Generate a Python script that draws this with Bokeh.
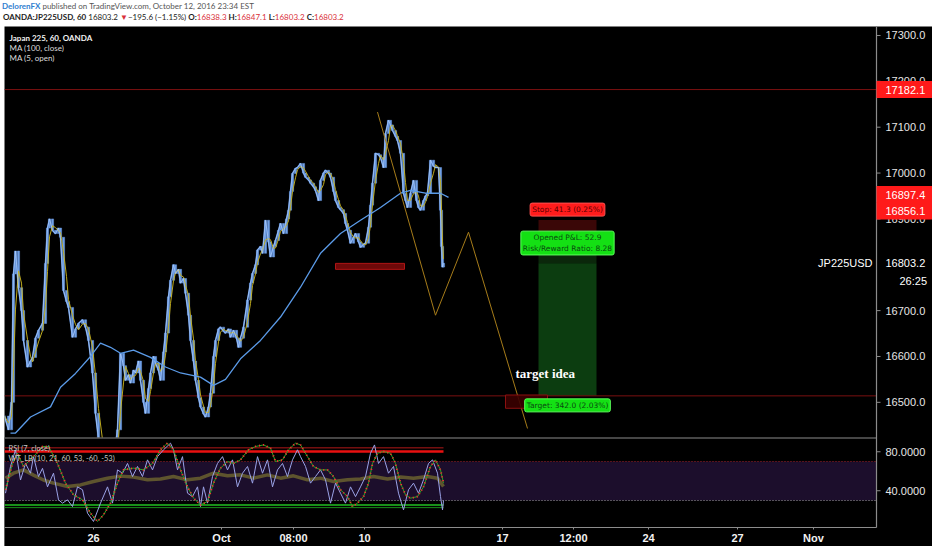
from bokeh.plotting import figure
from bokeh.models import Range1d, Label, Div, ColumnDataSource, BoxAnnotation
from bokeh.layouts import column
from bokeh.embed import file_html
from bokeh.resources import INLINE
import pandas as pd

# ---------------- data ----------------
price_t = [0, 4, 7, 9, 11, 14, 17, 19, 23, 26, 28, 31, 34, 38, 41, 43, 45, 48, 51, 54, 56, 59, 62, 64, 68, 71,
           74, 78, 81, 84, 88, 91, 94, 98, 102, 106, 110, 113, 116, 119, 121, 124, 126, 129, 131, 134, 136, 139,
           141, 144, 146, 149, 151, 154, 156, 159, 161, 164, 166, 169, 171, 174, 176, 179, 181, 184, 186, 189,
           191, 194, 196, 199, 201, 204, 206, 209, 211, 214, 216, 219, 221, 224, 226, 229, 232, 234, 236, 239,
           243, 246, 248, 251, 253, 256, 258, 261, 264, 266, 269, 271, 274, 276, 279, 282, 284, 286, 288, 291,
           293, 296, 299, 301, 304, 306, 309, 311, 314, 316, 319, 321, 324, 326, 329, 331, 334, 336, 339, 341,
           343, 346, 349, 351, 354, 356, 359, 361, 364, 366, 368, 371, 374, 376, 379, 381, 384, 386, 388, 391,
           393, 396, 399, 401, 403, 406, 409, 412, 414, 416, 419, 421, 423, 426, 429, 431, 434, 436, 437, 438, 439]
price_close = [16470, 16440, 16500, 16780, 16830, 16750, 16700, 16635, 16577, 16590, 16598, 16640, 16657, 16672,
               16803, 16880, 16900, 16875, 16868, 16880, 16860, 16744, 16720, 16707, 16642, 16660, 16672, 16680,
               16664, 16635, 16564, 16476, 16420, 16360, 16330, 16350, 16390, 16440, 16607, 16580, 16548, 16560,
               16542, 16570, 16564, 16590, 16548, 16500, 16476, 16530, 16564, 16600, 16585, 16570, 16548, 16610,
               16651, 16730, 16766, 16800, 16781, 16790, 16760, 16770, 16738, 16690, 16635, 16590, 16548, 16510,
               16490, 16475, 16468, 16490, 16520, 16600, 16635, 16660, 16664, 16655, 16651, 16660, 16642, 16657,
               16640, 16620, 16640, 16664, 16723, 16760, 16781, 16800, 16832, 16840, 16825, 16897, 16850, 16817,
               16840, 16853, 16875, 16890, 16868, 16900, 16919, 16960, 16999, 17010, 17012, 17021, 17000, 16991,
               16985, 16978, 16970, 16962, 16940, 16984, 17000, 17006, 17000, 16991, 16960, 16940, 16925, 16920,
               16912, 16890, 16875, 16847, 16860, 16868, 16850, 16838, 16845, 16847, 16882, 16930, 16978, 17043,
               17040, 17034, 17012, 17086, 17115, 17105, 17093, 17080, 17071, 17043, 16956, 16940, 16925, 16956,
               16984, 16940, 16925, 16919, 16940, 16950, 16956, 17028, 17015, 17012, 17012, 16919, 16840, 16795,
               16803.2]

ma100_t = [6, 11, 26, 46, 56, 71, 86, 96, 106, 116, 129, 146, 161, 176, 196, 209, 221, 236, 256, 276, 296, 316,
           336, 356, 376, 396, 406, 421, 436, 444]
ma100 = [16433, 16433, 16468, 16490, 16533, 16563, 16600, 16629, 16620, 16607, 16614, 16598, 16577, 16564, 16555,
         16537, 16550, 16595, 16635, 16686, 16751, 16825, 16868, 16897, 16925, 16956, 16962, 16956, 16956, 16947]

rsi_t = [1, 6, 11, 16, 21, 26, 29, 34, 38, 43, 49, 54, 58, 63, 68, 73, 78, 83, 89, 96, 103, 108, 113, 118, 123,
         128, 133, 138, 143, 148, 153, 159, 166, 169, 173, 178, 183, 188, 193, 196, 199, 203, 208, 213, 218, 223,
         228, 233, 238, 243, 248, 253, 258, 263, 268, 273, 278, 283, 288, 293, 296, 301, 306, 311, 316, 321, 326,
         331, 336, 341, 346, 351, 356, 361, 366, 370, 374, 379, 384, 389, 394, 399, 404, 409, 414, 419, 424, 428,
         433, 436, 438, 439]
rsi_vals = [37.5, 64.9, 82, 51, 68, 58, 75, 54.6, 63, 44, 58, 30.7, 27.3, 30.7, 23.8, 44, 41, 17, 8.5, 27.3, 44,
            27.3, 61.4, 58, 68, 54.6, 64.9, 54.6, 71.7, 61.4, 75, 82, 88.8, 82, 61.4, 75, 37.5, 34, 44, 23.8, 44,
            27.3, 54.6, 68, 75, 61.4, 71.7, 44, 58, 64.9, 47.8, 75, 58, 71.7, 44, 61.4, 68, 54.6, 71.7, 82, 75,
            64.9, 47.8, 54.6, 61.4, 51.2, 27.3, 47.8, 37.5, 27.3, 44, 34, 44, 54.6, 78.5, 87, 68, 75, 58, 64.9,
            37.5, 20.4, 41, 47.8, 37.5, 51.2, 68, 71.7, 58, 34, 20.4, 30]

wt_t = [1, 8, 13, 19, 29, 38, 44, 53, 61, 69, 78, 86, 93, 99, 106, 113, 119, 129, 139, 148, 156, 163, 169, 176,
        183, 189, 196, 203, 209, 216, 223, 229, 236, 244, 251, 259, 266, 271, 278, 284, 291, 296, 303, 309, 316,
        323, 329, 336, 343, 348, 353, 359, 364, 368, 373, 379, 386, 391, 396, 401, 406, 413, 419, 426, 431, 436,
        439]
wt_vals = [41, 68, 78.5, 64.9, 75, 85.4, 85.4, 68, 47.8, 35.8, 30.7, 17, 8.5, 15.3, 27.3, 47.8, 61.4, 63.2, 61.4,
           68, 82, 88.8, 82, 61.4, 44, 32.4, 25.5, 29, 47.8, 63.2, 70, 68, 71.7, 82, 85.4, 87, 83.7, 70, 71.7, 82,
           88.8, 87, 75, 64.9, 61.4, 61.4, 54.6, 41, 34, 23.8, 27.3, 34, 47.8, 68, 78.5, 80.2, 78.5, 68, 47.8,
           35.8, 32.4, 34, 44, 64.9, 71.7, 61.4, 47.8]

band_t = [1, 9, 19, 29, 39, 49, 63, 76, 89, 103, 116, 129, 143, 156, 169, 183, 196, 209, 223, 236, 249, 263, 276,
          289, 303, 316, 329, 343, 356, 369, 383, 396, 409, 423, 433, 439]
band_vals = [52.9, 58, 61.4, 56, 51, 47.8, 44.4, 46, 49.5, 52.9, 55, 54, 51.2, 52, 54.6, 51.2, 52.9, 58, 55.3,
             56.3, 52.9, 56.3, 52.9, 55.3, 51.2, 52.9, 49.5, 51.2, 52, 54.6, 52, 54, 52.9, 54.6, 52.9, 44.4]

time_tick_pos = [89, 217, 289, 360, 498, 569, 644, 733, 809]
time_tick_labels = ["26", "Oct", "08:00", "10", "17", "12:00", "24", "27", "Nov"]
price_ticks = [16500, 16600, 16700, 16900, 17000, 17100, 17200, 17300]
rsi_ticks = [40, 80]
rsi_bands = [30, 70]
wt_levels_hi = [84, 80.3]
wt_levels_lo = [25.4, 22.7]

last_price = 16803.2
alert_level = 17182.1
stop_price = 16897.4
entry_price = 16856.1
target_price = 16514.1

# hand drawings
zig_t = [373, 431, 464, 523]
zig_p = [17133, 16690, 16871, 16443]
support_box = dict(left=331, right=400, bottom=16790, top=16803)
target_box = dict(left=501, right=543, bottom=16487, top=16516)
pos_left, pos_right = 534, 592

# ---------------- layout (pixels) ----------------
FIG_W, FIG_H = 928, 520          # black chart area
AX_T = 872                        # x of price-axis line (time units == px)
MAIN_H = 411                      # main panel height
RSI_TOP, RSI_BOT = 412, 501       # RSI panel rows
PRICE_LO, PRICE_HI = 16423.3, 17319.6
RSI_LO, RSI_HI = 2.3, 93.6

PP = (PRICE_HI - PRICE_LO) / MAIN_H
y_start = PRICE_HI - FIG_H * PP
RP = (RSI_HI - RSI_LO) / (RSI_BOT - RSI_TOP)
rsi_end = RSI_HI + RSI_TOP * RP
rsi_start = RSI_LO - (FIG_H - RSI_BOT) * RP


def py(px):
    """price-coordinate of a pixel row measured from the top of the chart"""
    return PRICE_HI - px * PP


AXF = "Liberation Sans"
GRAY = "#8c8c8c"

p = figure(width=FIG_W, height=FIG_H, output_backend="svg", toolbar_location=None,
           x_range=Range1d(0, FIG_W), y_range=Range1d(y_start, PRICE_HI),
           x_axis_location=None, y_axis_location=None,
           min_border=0, min_border_left=0, min_border_right=0, min_border_top=0, min_border_bottom=0,
           background_fill_color="black", border_fill_color="black", outline_line_color=None)
p.margin = (0, 0, 0, 4)
p.extra_y_ranges = {"rsi": Range1d(rsi_start, rsi_end)}
p.grid.visible = False

# ---------------- main panel ----------------
ma5 = pd.Series(price_close).rolling(3, min_periods=1).mean().tolist()
opens = [price_close[0]] + price_close[:-1]
src = ColumnDataSource(dict(t=price_t, close=price_close, ma5=ma5,
                            lo=[min(a, b) for a, b in zip(opens, price_close)],
                            hi=[max(a, b) for a, b in zip(opens, price_close)]))

p.quad(left=pos_left, right=pos_right, bottom=entry_price, top=stop_price, fill_color="#3a0707", line_color=None)
p.quad(left=pos_left, right=pos_right, bottom=last_price, top=entry_price, fill_color="#0b270b", line_color=None)
p.quad(left=pos_left, right=pos_right, bottom=target_price, top=last_price, fill_color="#0c3d10", line_color=None)

p.segment(x0=[0, 0], x1=[AX_T, AX_T], y0=[alert_level, target_price], y1=[alert_level, target_price],
          line_color="#7a1010", line_width=1)

p.vbar(x="t", bottom="lo", top="hi", width=2.2, source=src, fill_color="#6f9fe6", line_color="#6f9fe6",
       line_width=0.5)
p.line("t", "close", source=src, line_color="#5f8fdc", line_width=1.6)
p.line("t", "ma5", source=src, line_color="#c0ac1e", line_width=1)
p.line("t", "close", source=src, line_color="#b5d3fa", line_width=0.7)
p.line(ma100_t, ma100, line_color="#5b9be8", line_width=1.3)

p.line(zig_t, zig_p, line_color="#a67c1a", line_width=1)
p.quad(**support_box, fill_color="#7a0a0a", fill_alpha=0.9, line_color="#b01515")
p.quad(**target_box, fill_color="#3a0000", fill_alpha=0.9, line_color="#8b1010")

# cover everything below the main panel
p.quad(left=0, right=FIG_W, bottom=y_start, top=PRICE_LO, fill_color="black", line_color=None)

# ---------------- RSI panel ----------------
p.quad(left=0, right=AX_T, bottom=rsi_bands[0], top=rsi_bands[1], fill_color="#1c0e2c",
       line_color=None, y_range_name="rsi")
p.line([0, AX_T], [rsi_bands[1]] * 2, line_color="#a02020", line_dash="1 2", line_width=1, y_range_name="rsi")
p.line([0, AX_T], [rsi_bands[0]] * 2, line_color="#a0a0a0", line_dash="1 2", line_width=1, y_range_name="rsi")
t_first, t_last = price_t[0], price_t[-1]
p.line([t_first, t_last], [wt_levels_hi[0]] * 2, line_color="#b01818", line_width=1, y_range_name="rsi")
p.line([t_first, t_last], [wt_levels_hi[1]] * 2, line_color="#e81010", line_width=2.5, y_range_name="rsi")
p.line([t_first, t_last], [wt_levels_lo[0]] * 2, line_color="#22c022", line_width=1.6, y_range_name="rsi")
p.line([t_first, t_last], [wt_levels_lo[1]] * 2, line_color="#188a18", line_width=1, y_range_name="rsi")

p.line(band_t, band_vals, line_color="#8a8430", line_alpha=0.6, line_width=3.5, y_range_name="rsi")
p.line(rsi_t, rsi_vals, line_color="#9aa2e6", line_width=1, y_range_name="rsi")
p.line(wt_t, wt_vals, line_color="#25a825", line_width=1, y_range_name="rsi")
p.line(wt_t, wt_vals, line_color="#ff3030", line_width=2, line_dash="1 3", y_range_name="rsi")

# ---------------- axes (drawn by hand inside the canvas) ----------------
p.segment(x0=[0, AX_T, 0], x1=[AX_T, AX_T, AX_T], y0=[py(MAIN_H + 0.5), PRICE_HI, py(RSI_BOT)],
          y1=[py(MAIN_H + 0.5), py(RSI_BOT), py(RSI_BOT)], line_color=GRAY, line_width=1.2)

rsi_tick_prices = [py(RSI_TOP + (RSI_HI - v) / RP) for v in rsi_ticks]
all_tick_y = price_ticks + rsi_tick_prices
p.segment(x0=[AX_T] * len(all_tick_y), x1=[AX_T + 4] * len(all_tick_y), y0=all_tick_y, y1=all_tick_y,
          line_color=GRAY, line_width=1)
p.segment(x0=time_tick_pos, x1=time_tick_pos, y0=[py(RSI_BOT)] * len(time_tick_pos),
          y1=[py(RSI_BOT + 2)] * len(time_tick_pos), line_color=GRAY, line_width=1)

for tk in price_ticks:
    p.add_layout(Label(x=AX_T, y=tk, x_offset=9, text=f"{tk:.1f}", text_font=AXF, text_font_size="11px",
                       text_color="#e6e6e6", text_baseline="middle"))
for tp, v in zip(rsi_tick_prices, rsi_ticks):
    p.add_layout(Label(x=AX_T, y=tp, x_offset=9, text=f"{v:.4f}", text_font=AXF, text_font_size="11px",
                       text_color="#e6e6e6", text_baseline="middle"))
for tp, lab in zip(time_tick_pos, time_tick_labels):
    p.add_layout(Label(x=tp, y=py(511), text=lab, text_font=AXF, text_font_size="11px", text_font_style="bold",
                       text_color="#f2f2f2", text_align="center", text_baseline="middle"))

# price-axis boxes (drawn on top of tick labels)
def axis_box(val, dy_px, bg, fg):
    yc = val + dy_px * PP
    p.add_layout(BoxAnnotation(left=AX_T, right=FIG_W, bottom=yc - 8.5 * PP, top=yc + 8.5 * PP,
                               fill_color=bg, fill_alpha=1, line_color=None))
    p.add_layout(Label(x=AX_T, y=yc, x_offset=9, text=f"{val:.1f}", text_font=AXF, text_font_size="11px",
                       text_color=fg, text_baseline="middle"))

axis_box(alert_level, 0, "#ff1a1a", "#ffffff")
axis_box(stop_price, 25.5, "#ff1a1a", "#ffffff")
axis_box(entry_price, 28, "#ff1a1a", "#ffffff")
p.add_layout(Label(x=AX_T, y=last_price, x_offset=9, text=f"{last_price:.1f}", text_font=AXF,
                   text_font_size="11px", text_color="#ffffff", text_baseline="middle"))
p.add_layout(Label(x=AX_T, y=last_price, x_offset=-3, text="JP225USD", text_font=AXF, text_font_size="11px",
                   text_color="#ffffff", text_align="right", text_baseline="middle",
                   background_fill_color="#000000", padding=1))
p.add_layout(Label(x=AX_T, y=last_price, x_offset=23, y_offset=-18, text="26:25", text_font=AXF,
                   text_font_size="11px", text_color="#ffffff", text_baseline="middle"))

# ---------------- legends / drawing texts ----------------
LF = "Lato"
p.add_layout(Label(x=0, y=PRICE_HI, x_offset=5, y_offset=-6, text="Japan 225, 60, OANDA", text_font=LF,
                   text_font_style="bold", text_font_size="8px", text_color="#f2f2f2", text_baseline="top"))
p.add_layout(Label(x=0, y=PRICE_HI, x_offset=5, y_offset=-16, text="MA (100, close)", text_font=LF,
                   text_font_size="8px", text_color="#dcdcdc", text_baseline="top"))
p.add_layout(Label(x=0, y=PRICE_HI, x_offset=5, y_offset=-26, text="MA (5, open)", text_font=LF,
                   text_font_size="8px", text_color="#dcdcdc", text_baseline="top"))
p.add_layout(Label(x=0, y=RSI_HI, y_range_name="rsi", x_offset=4, y_offset=-5, text="RSI (7, close)",
                   text_font=LF, text_font_size="7.5px", text_color="#c8c8c8", text_baseline="top"))
p.add_layout(Label(x=0, y=RSI_HI, y_range_name="rsi", x_offset=4, y_offset=-15,
                   text="WT_LB (10, 21, 60, 53, -60, -53)",
                   text_font=LF, text_font_size="7.5px", text_color="#c8c8c8", text_baseline="top"))

PF = "DejaVu Sans"
pos_mid = (pos_left + pos_right) / 2
p.add_layout(Label(x=pos_mid, y=stop_price, y_offset=4, text="Stop: 41.3 (0.25%)", text_font=PF,
                   text_font_size="7.5px", text_color="#5a0000", text_align="center", text_baseline="bottom",
                   background_fill_color="#ff1c1c", border_line_color="#ff5050", padding=2, border_radius=2))
p.add_layout(Label(x=pos_mid, y=entry_price, y_offset=-4, text="Opened P&L: 52.9\nRisk/Reward Ratio: 8.28",
                   text_font=PF, text_font_size="7.5px", text_color="#0a4a10", text_align="center",
                   text_baseline="middle", background_fill_color="#14e014", border_line_color="#5cff5c",
                   padding=2, border_radius=2))
p.add_layout(Label(x=pos_mid, y=target_price, y_offset=-3, text="Target: 342.0 (2.03%)", text_font=PF,
                   text_font_size="7.5px", text_color="#0a4a10", text_align="center", text_baseline="top",
                   background_fill_color="#14e014", border_line_color="#5cff5c", padding=2, border_radius=2))
p.add_layout(Label(x=target_box["left"] + 10, y=target_price, y_offset=22, text="target idea",
                   text_font="Liberation Serif", text_font_style="bold", text_font_size="13px",
                   text_color="#ffffff", text_baseline="middle"))

# ---------------- header ----------------
red = "#d9303a"
header_html = (
    '<div style="font-family:Lato;font-size:8px;line-height:11px;padding-top:1px;color:#555;'
    'white-space:nowrap;padding-left:2px">'
    '<div><span style="color:#2f7fd0;font-weight:bold">DelorenFX</span> published on TradingView.com, '
    'October 12, 2016 23:34 EST</div>'
    '<div style="color:#222;padding-left:1px"><b>OANDA:JP225USD, 60</b> 16803.2 '
    f'<span style="color:{red}">&#9660;</span>&#8722;195.6 (&#8722;1.15%) '
    f'<b>O:</b><span style="color:{red}">16838.3</span> <b>H:</b><span style="color:{red}">16847.1</span> '
    f'<b>L:</b><span style="color:{red}">16803.2</span> <b>C:</b><span style="color:{red}">16803.2</span></div>'
    '</div>'
)
header = Div(text=header_html, width=932, height=26, margin=(0, 0, 0, 0))

layout = column(header, p, spacing=0)
open("out.html", "w").write(file_html(layout, INLINE))
